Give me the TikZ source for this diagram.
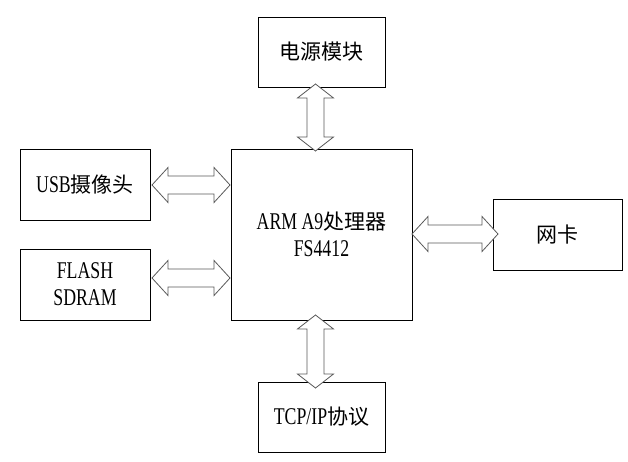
\documentclass[tikz,border=0pt]{standalone}
\usepackage{fontspec}
\setmainfont[FakeStretch=0.74]{Liberation Serif}
\newfontfamily\cjk{Noto Sans CJK SC}
\newcommand\zh[1]{{\cjk\fontsize{21}{27}\selectfont #1}}
\tikzset{
  box/.style={draw=black, line width=0.8pt, fill=white, inner sep=0pt, align=center,
    font=\fontsize{24}{27}\selectfont},
  arr/.style={draw=black!65, line width=0.8pt, fill=white, line join=miter},
}
\newcommand\hdarrow[3]{%
  \draw[arr] (#1,#3) -- (#1+16,#3-17.5) -- (#1+16,#3-9) -- (#2-16,#3-9) -- (#2-16,#3-17.5)
    -- (#2,#3) -- (#2-16,#3+17.5) -- (#2-16,#3+9) -- (#1+16,#3+9) -- (#1+16,#3+17.5) -- cycle;}
\newcommand\vdarrow[3]{%
  \draw[arr] (#1,#2) -- (#1-18,#2+14) -- (#1-8.5,#2+14) -- (#1-8.5,#3-14) -- (#1-18,#3-14)
    -- (#1,#3) -- (#1+18,#3-14) -- (#1+8.5,#3-14) -- (#1+8.5,#2+14) -- (#1+18,#2+14) -- cycle;}
\begin{document}
\begin{tikzpicture}[x=1pt,y=-1pt]
\useasboundingbox (0,0) rectangle (628,462);
\node[box, minimum width=127pt, minimum height=70pt] (power) at (321.5,52) {\zh{电源模块}};
\node[box, minimum width=181pt, minimum height=171pt] (cpu) at (321.5,234.5) {ARM A9\zh{处理器}\\FS4412};
\node[box, minimum width=130pt, minimum height=71pt] (usb) at (85,184.5) {USB\zh{摄像头}};
\node[box, minimum width=130pt, minimum height=71pt] (flash) at (85,284.5) {FLASH\\SDRAM};
\node[box, minimum width=129pt, minimum height=71pt] (net) at (557.5,234.5) {\zh{网卡}};
\node[box, minimum width=127pt, minimum height=70pt] (tcp) at (321.5,417) {TCP/IP\zh{协议}};
\hdarrow{152}{230}{185}
\hdarrow{152}{230}{278}
\hdarrow{412}{498}{234}
\vdarrow{315.5}{84}{151}
\vdarrow{315.5}{315}{388}
\end{tikzpicture}
\end{document}
